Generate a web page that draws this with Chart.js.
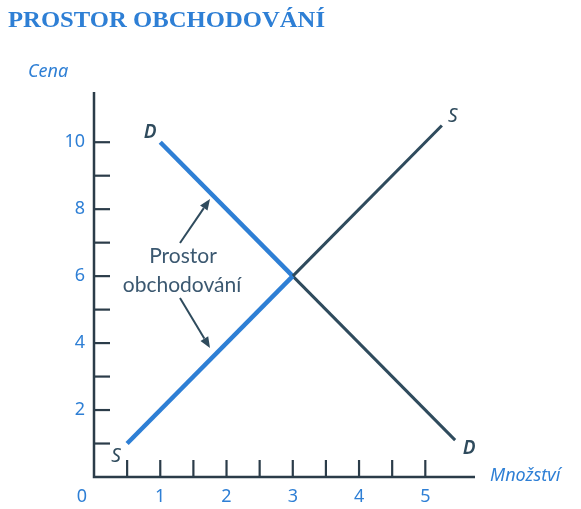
<!DOCTYPE html>
<html><head><meta charset="utf-8">
<script src="https://cdn.jsdelivr.net/npm/chart.js@4"></script>
<style>html,body{margin:0;padding:0;background:#fff;}#wrap{width:581px;height:509px;}</style>
</head><body><div id="wrap"><canvas id="c" width="581" height="509"></canvas></div>
<script>
// ---- data ----
const titleText = "PROSTOR OBCHODOVÁNÍ";
const xAxisTitle = "Množství";
const yAxisTitle = "Cena";
const supplyQ = [0.5, 3, 5.25];
const supplyP = [1, 6, 10.5];
const demandQ = [1, 3, 5.45];
const demandP = [10, 6, 1.1];
const xTickLabels = [0, 1, 2, 3, 4, 5];
const yTickLabels = [2, 4, 6, 8, 10];
const xMinorTicks = [0.5, 1, 1.5, 2, 2.5, 3, 3.5, 4, 4.5, 5];
const yMinorTicks = [1, 2, 3, 4, 5, 6, 7, 8, 9, 10];
const annotationLines = ["Prostor", "obchodování"];

const BLUE = "#2e7fd5";
const DARK = "#2f4b5d";
const AXIS = "#2b3c49";
const TEXTDARK = "#3b5870";

function pts(q, p, from, to) {
  const out = [];
  for (let i = from; i <= to; i++) out.push({x: q[i], y: p[i]});
  return out;
}

const overlay = {
  id: 'overlay',
  afterDatasetsDraw(chart) {
    const ctx = chart.ctx, xs = chart.scales.x, ys = chart.scales.y;
    const X = v => xs.getPixelForValue(v), Y = v => ys.getPixelForValue(v);
    const x0 = X(0), y0 = Y(0);
    ctx.save();
    // axes
    ctx.strokeStyle = AXIS; ctx.lineWidth = 2.5; ctx.lineCap = 'butt';
    ctx.beginPath();
    ctx.moveTo(x0, Y(ys.max)); ctx.lineTo(x0, y0); ctx.lineTo(X(xs.max), y0);
    ctx.stroke();
    ctx.lineWidth = 2.2;
    xMinorTicks.forEach(v => { ctx.beginPath(); ctx.moveTo(X(v), y0); ctx.lineTo(X(v), y0 - 17); ctx.stroke(); });
    yMinorTicks.forEach(v => { ctx.beginPath(); ctx.moveTo(x0, Y(v)); ctx.lineTo(x0 + 16, Y(v)); ctx.stroke(); });
    // tick labels
    ctx.fillStyle = BLUE; ctx.font = '18px "Noto Sans"'; ctx.textBaseline = 'middle';
    ctx.textAlign = 'center';
    xTickLabels.forEach(v => {
      const px = v === 0 ? x0 - 12 : X(v);
      ctx.fillText(String(v), px, y0 + 20);
    });
    ctx.textAlign = 'right';
    yTickLabels.forEach(v => ctx.fillText(String(v), x0 - 9, Y(v)));
    // axis titles
    ctx.font = 'italic 18px "Noto Sans"';
    ctx.textAlign = 'left';
    ctx.fillText(xAxisTitle, X(xs.max) + 15, y0 - 1);
    ctx.fillText(yAxisTitle, 28, 72);
    // title
    ctx.font = 'bold 24px "Liberation Serif"';
    const w = ctx.measureText(titleText).width;
    ctx.save(); ctx.translate(8, 21); ctx.scale(317 / w, 1);
    ctx.textAlign = 'left'; ctx.fillText(titleText, 0, 0); ctx.restore();
    // curve labels
    ctx.fillStyle = DARK; ctx.font = 'italic 600 19px "Noto Sans"'; ctx.textAlign = 'center';
    ctx.fillText('D', X(demandQ[0]) - 10, Y(demandP[0]) - 10);
    ctx.fillText('D', X(demandQ[2]) + 14, Y(demandP[2]) + 8);
    ctx.font = 'italic 19px "Noto Sans"';
    ctx.fillText('S', X(supplyQ[0]) - 11, Y(supplyP[0]) + 13);
    ctx.fillText('S', X(supplyQ[2]) + 11, Y(supplyP[2]) - 9);
    // annotation
    ctx.fillStyle = TEXTDARK; ctx.font = '21px Lato';
    ctx.textAlign = 'center';
    ctx.fillText(annotationLines[0], 183, 256);
    ctx.fillText(annotationLines[1], 182, 285);
    function arrow(xa, ya, xb, yb) {
      ctx.strokeStyle = DARK; ctx.fillStyle = DARK; ctx.lineWidth = 2;
      const ang = Math.atan2(yb - ya, xb - xa), L = 11, Wd = 4.5;
      const bx = xb - L * Math.cos(ang), by = yb - L * Math.sin(ang);
      ctx.beginPath(); ctx.moveTo(xa, ya); ctx.lineTo(bx, by); ctx.stroke();
      ctx.beginPath(); ctx.moveTo(xb, yb);
      ctx.lineTo(bx + Wd * Math.sin(ang), by - Wd * Math.cos(ang));
      ctx.lineTo(bx - Wd * Math.sin(ang), by + Wd * Math.cos(ang));
      ctx.closePath(); ctx.fill();
    }
    arrow(180, 243, 210, 199);
    arrow(180, 298, 210, 348);
    ctx.restore();
  }
};

new Chart(document.getElementById('c'), {
  type: 'scatter',
  data: {
    datasets: [
      {data: pts(supplyQ, supplyP, 0, 1), showLine: true, borderColor: BLUE, borderWidth: 4.5, pointRadius: 0},
      {data: pts(supplyQ, supplyP, 1, 2), showLine: true, borderColor: DARK, borderWidth: 3, pointRadius: 0},
      {data: pts(demandQ, demandP, 0, 1), showLine: true, borderColor: BLUE, borderWidth: 4.5, pointRadius: 0},
      {data: pts(demandQ, demandP, 1, 2), showLine: true, borderColor: DARK, borderWidth: 3, pointRadius: 0}
    ]
  },
  options: {
    responsive: false, animation: false,
    layout: {padding: {left: 94, right: 106, top: 92, bottom: 32}},
    scales: {
      x: {type: 'linear', min: 0, max: 5.75, display: false},
      y: {type: 'linear', min: 0, max: 11.5, display: false}
    },
    plugins: {legend: {display: false}, tooltip: {enabled: false}, title: {display: false}}
  },
  plugins: [overlay]
});
</script></body></html>
